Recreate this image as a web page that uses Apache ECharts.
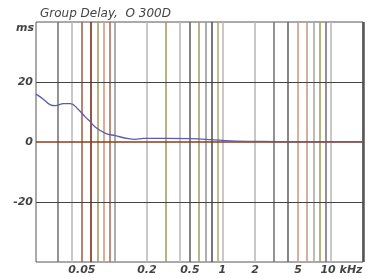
<!DOCTYPE html>
<html>
<head>
<meta charset="utf-8">
<script src="https://cdn.jsdelivr.net/npm/echarts@6/dist/echarts.min.js"></script>
<style>
  html, body { margin: 0; padding: 0; background: #fff; }
  #chart { width: 367px; height: 278px; }
</style>
</head>
<body>
<div id="chart"></div>
<script>
// frequency in kHz, group delay in ms
const freq = [0.0188, 0.0193, 0.0221, 0.0255, 0.0284, 0.0337, 0.0392, 0.0454, 0.0539, 0.0587,
  0.0668, 0.0826, 0.102, 0.135, 0.156, 0.186, 0.297, 0.506, 0.774, 1.19, 2.25, 5.27, 20];
const delay = [15.9, 15.7, 14.2, 12.4, 12.1, 12.8, 12.8, 11.2, 8.3, 7.1,
  4.9, 2.9, 2.1, 1.1, 0.9, 1.2, 1.2, 1.1, 0.8, 0.4, 0.2, 0.1, 0.1];

// vertical grid lines (kHz) and their colours
const gridFreqs = [0.03, 0.04, 0.05, 0.06, 0.07, 0.08, 0.09,
  0.1, 0.2, 0.3, 0.4, 0.5, 0.6, 0.7, 0.8, 0.9,
  1, 2, 3, 4, 5, 6, 7, 8, 9, 10];
const gridColors = ['#777', '#bbb', '#a8654a', '#7a2e10', '#a5a060', '#d49a80', '#b0705a',
  '#999', '#bbb', '#a5a060', '#bbb', '#666', '#a5a070', '#999', '#555', '#b5b070',
  '#bbb', '#bbb', '#777', '#666', '#d49a88', '#c89c88', '#aaa', '#a5a060', '#777', '#bbb'];

// tick labels on the frequency axis
const tickFreqs = [0.05, 0.2, 0.5, 1, 2, 5, 10];
const tickLabels = ['0.05', '0.2', '0.5', '1', '2', '5', '10 kHz'];

const yTicks = [-20, 0, 20];

const labelFont = {
  color: '#444',
  fontFamily: 'DejaVu Sans',
  fontStyle: 'italic',
  fontWeight: 'bold',
  fontSize: 11
};

let chart = echarts.init(document.getElementById('chart'));

let vLines = gridFreqs.map((f, i) => {
  let item = {
    xAxis: f,
    lineStyle: { color: gridColors[i], width: 1.6, type: 'solid' },
    label: { show: false }
  };
  let k = tickFreqs.indexOf(f);
  if (k >= 0) {
    item.label = Object.assign({
      show: true,
      position: 'start',
      distance: 3,
      formatter: tickLabels[k],
      offset: k === tickFreqs.length - 1 ? [11, 0] : [0, 0]
    }, labelFont);
  }
  return item;
});
vLines.push({ xAxis: 20, lineStyle: { color: '#555', width: 2.5, type: 'solid' }, label: { show: false } });

let hLines = yTicks.map(v => ({
  yAxis: v,
  lineStyle: { color: v === 0 ? '#8a3c1c' : '#444', width: v === 0 ? 1.5 : 1, type: 'solid' },
  label: { show: false }
}));

let option = {
  animation: false,
  title: {
    text: 'Group Delay,  O 300D',
    left: 35,
    top: 3,
    textStyle: {
      color: '#444',
      fontFamily: 'DejaVu Sans',
      fontStyle: 'italic',
      fontWeight: 'normal',
      fontSize: 12
    }
  },
  graphic: [{
    type: 'text',
    right: 333,
    top: 23,
    style: {
      text: 'ms',
      fill: '#444',
      font: 'italic bold 11px "DejaVu Sans"'
    }
  }],
  grid: {
    left: 36,
    right: 4,
    top: 22,
    bottom: 16,
    show: true,
    borderColor: '#555',
    borderWidth: 1
  },
  xAxis: {
    type: 'log',
    logBase: 10,
    min: 0.0188,
    max: 20,
    axisLine: { show: false },
    axisTick: { show: false },
    axisLabel: { show: false },
    splitLine: { show: false }
  },
  yAxis: {
    type: 'value',
    min: -40,
    max: 40,
    interval: 20,
    axisLine: { show: false },
    axisTick: { show: false },
    splitLine: { show: false },
    axisLabel: Object.assign({
      margin: 3,
      formatter: v => (Math.abs(v) === 40 ? '' : String(v))
    }, labelFont)
  },
  series: [{
    type: 'line',
    data: freq.map((f, i) => [f, delay[i]]),
    smooth: 0.4,
    symbol: 'none',
    lineStyle: { color: '#5a5cb0', width: 1.3 },
    z: 5,
    markLine: {
      silent: true,
      symbol: 'none',
      animation: false,
      data: vLines.concat(hLines)
    }
  }]
};
chart.setOption(option);
</script>
</body>
</html>
